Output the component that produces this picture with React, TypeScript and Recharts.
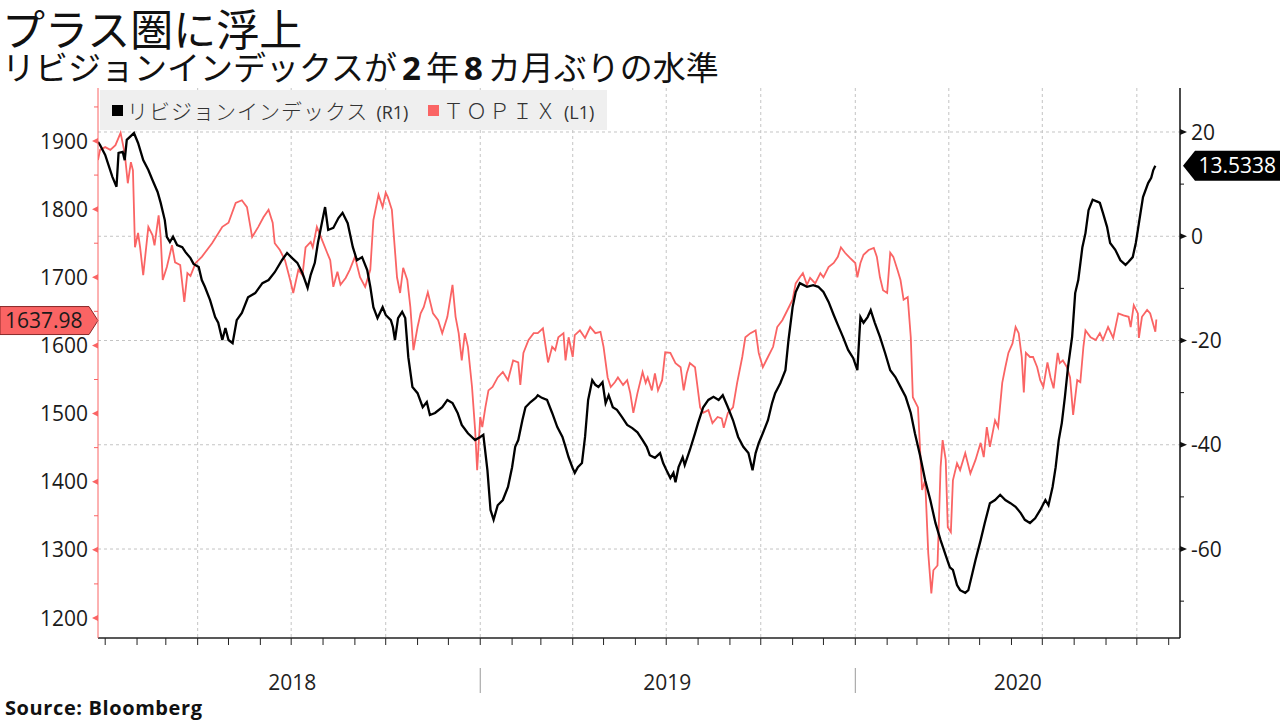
import { LineChart, Line, XAxis, YAxis, CartesianGrid, ReferenceLine, Legend } from 'recharts';

// days counted from 2018-01-01
const revDays = [
  -7, -5, 0, 7, 11, 13, 17, 19, 21, 28, 32, 37, 42, 46, 51, 54, 58, 60, 63, 66,
  70, 75, 78, 83, 86, 91, 94, 97, 102, 107, 110, 114, 117, 120, 124, 128, 133, 139, 146, 153,
  159, 165, 172, 177, 182, 187, 192, 197, 200, 204, 207, 211, 214, 217, 222, 227, 231, 236, 241, 245,
  250, 255, 258, 261, 265, 270, 273, 278, 280, 282, 285, 289, 292, 295, 299, 304, 309, 313, 316, 321,
  328, 333, 338, 343, 347, 353, 360, 365, 368, 372, 375, 378, 382, 387, 392, 396, 399, 402, 406, 409,
  414, 419, 421, 425, 430, 435, 440, 445, 448, 451, 455, 457, 460, 464, 467, 470, 474, 477, 480, 484,
  487, 490, 494, 498, 503, 508, 513, 518, 523, 527, 530, 535, 540, 543, 547, 550, 553, 555, 558, 562,
  564, 569, 574, 577, 582, 587, 592, 597, 601, 606, 611, 616, 621, 626, 630, 633, 636, 640, 645, 649,
  652, 657, 662, 665, 669, 672, 676, 683, 689, 694, 699, 704, 709, 713, 718, 723, 728, 732, 735, 738,
  742, 745, 749, 754, 759, 764, 769, 774, 779, 784, 788, 793, 798, 803, 808, 813, 818, 822, 825, 829,
  832, 837, 840, 844, 847, 852, 856, 861, 866, 871, 876, 881, 886, 891, 895, 900, 905, 910, 915, 918,
  922, 925, 928, 931, 934, 937, 941, 944, 947, 951, 954, 957, 961, 966, 968, 971, 975, 978, 983, 988,
  993, 996, 1000, 1003, 1006, 1010, 1015, 1018, 1020, 1022,
];
const revIndex = [
  18.1, 17.5, 15.6, 11.4, 9.5, 16.0, 16.2, 14.6, 18.5, 19.8, 17.9, 14.6, 12.7, 10.8, 8.5, 6.4, 3.1, -0.1, -1.1, -0.1,
  -1.7, -2.1, -3.0, -4.2, -5.3, -5.9, -8.4, -9.7, -12.2, -15.5, -16.6, -19.9, -17.6, -19.9, -20.5, -16.1, -14.7, -11.7, -10.9, -9.0,
  -8.4, -6.9, -4.6, -3.2, -4.2, -5.1, -7.1, -9.9, -7.4, -5.1, -1.3, 2.7, 5.6, 1.2, 1.6, 3.5, 4.5, 2.5, -2.1, -4.6,
  -4.0, -6.5, -9.7, -13.6, -15.7, -13.6, -15.1, -16.1, -17.4, -19.9, -15.7, -14.5, -15.7, -23.2, -28.9, -30.1, -32.8, -31.8, -34.3, -33.9,
  -32.8, -31.4, -32.0, -33.9, -36.2, -37.8, -39.1, -38.5, -38.1, -44.9, -52.5, -54.4, -51.6, -50.6, -48.1, -44.3, -40.4, -39.1, -35.3, -32.8,
  -31.8, -31.0, -30.5, -31.0, -31.4, -33.9, -36.6, -38.5, -40.4, -42.4, -44.5, -45.4, -44.3, -43.5, -38.5, -31.4, -27.6, -28.5, -28.9, -28.0,
  -32.0, -30.5, -32.8, -33.3, -34.7, -36.2, -36.8, -37.6, -39.1, -40.4, -42.0, -42.5, -41.6, -43.5, -45.2, -46.4, -45.4, -47.2, -44.3, -42.4,
  -43.9, -41.0, -37.8, -35.8, -32.8, -31.4, -30.8, -31.4, -30.5, -32.8, -35.3, -38.5, -40.4, -41.6, -44.9, -41.6, -39.7, -37.8, -35.3, -32.0,
  -30.1, -28.2, -25.7, -19.9, -13.6, -10.7, -9.0, -9.7, -9.4, -9.7, -10.7, -12.6, -15.1, -17.0, -19.3, -21.8, -23.4, -25.7, -15.5, -16.6,
  -15.5, -14.2, -16.6, -19.3, -22.4, -25.7, -27.0, -28.9, -30.8, -33.9, -37.8, -42.0, -46.8, -50.6, -55.0, -58.3, -61.2, -63.5, -64.0, -66.9,
  -67.9, -68.4, -67.9, -64.6, -62.1, -58.3, -55.0, -51.2, -50.6, -49.6, -50.6, -51.2, -51.9, -53.1, -54.4, -55.0, -54.1, -52.5, -50.6, -51.6,
  -48.1, -44.3, -39.1, -35.8, -30.8, -25.1, -19.3, -10.9, -8.4, -2.1, 0.6, 5.0, 7.0, 6.6, 6.4, 4.5, 1.8, -1.3, -2.6, -4.6,
  -5.5, -4.9, -4.0, -1.3, 2.5, 7.5, 10.2, 11.2, 12.7, 13.5338,
];

const topixDays = [
  -7, -5, 0, 5, 10, 15, 19, 22, 25, 27, 29, 32, 34, 37, 42, 46, 48, 52, 54, 56,
  60, 65, 68, 73, 77, 80, 83, 88, 94, 104, 114, 120, 127, 133, 138, 143, 149, 154, 159, 163,
  165, 170, 175, 180, 183, 188, 192, 195, 200, 202, 206, 211, 216, 219, 222, 226, 229, 234, 238, 243,
  248, 253, 258, 261, 266, 270, 273, 275, 279, 284, 287, 290, 294, 297, 300, 304, 307, 310, 314, 319,
  324, 328, 333, 338, 341, 344, 347, 350, 353, 357, 360, 362, 365, 367, 370, 373, 377, 382, 387, 392,
  397, 402, 404, 407, 412, 417, 421, 426, 431, 435, 438, 441, 446, 448, 451, 455, 457, 462, 467, 472,
  477, 482, 485, 489, 492, 496, 499, 504, 508, 511, 514, 518, 523, 526, 528, 532, 535, 538, 542, 545,
  550, 555, 560, 563, 566, 569, 574, 579, 582, 587, 591, 596, 600, 602, 606, 611, 615, 620, 623, 628,
  633, 636, 640, 645, 650, 654, 659, 664, 669, 672, 676, 679, 683, 686, 691, 696, 699, 704, 709, 713,
  716, 720, 725, 730, 732, 735, 738, 743, 748, 751, 754, 757, 761, 764, 767, 771, 774, 777, 781, 784,
  786, 791, 795, 798, 801, 804, 806, 810, 813, 815, 818, 820, 823, 825, 829, 832, 837, 842, 847, 852,
  855, 858, 861, 866, 869, 873, 876, 879, 883, 886, 889, 892, 894, 896, 900, 903, 907, 910, 913, 917,
  920, 923, 927, 929, 932, 936, 939, 942, 946, 949, 952, 954, 959, 964, 968, 971, 976, 981, 986, 991,
  996, 998, 1001, 1005, 1006, 1009, 1014, 1017, 1022, 1023,
];
const topix = [
  1872, 1887, 1891, 1887, 1894, 1912, 1882, 1838, 1869, 1857, 1744, 1765, 1744, 1703, 1774, 1762, 1747, 1791, 1759, 1696,
  1715, 1747, 1722, 1718, 1664, 1706, 1702, 1721, 1730, 1750, 1774, 1780, 1809, 1813, 1803, 1759, 1774, 1788, 1799, 1780,
  1750, 1740, 1725, 1696, 1677, 1711, 1703, 1744, 1752, 1744, 1774, 1755, 1736, 1725, 1686, 1708, 1689, 1699, 1711, 1730,
  1700, 1686, 1711, 1784, 1821, 1803, 1824, 1818, 1799, 1700, 1677, 1714, 1696, 1656, 1593, 1627, 1647, 1656, 1678, 1647,
  1637, 1618, 1642, 1689, 1642, 1618, 1578, 1618, 1598, 1539, 1476, 1417, 1495, 1480, 1509, 1534, 1539, 1553, 1561, 1549,
  1578, 1575, 1542, 1589, 1608, 1618, 1618, 1625, 1575, 1598, 1593, 1612, 1618, 1578, 1612, 1583, 1615, 1622, 1611, 1627,
  1618, 1620, 1598, 1553, 1539, 1546, 1553, 1542, 1549, 1530, 1501, 1530, 1561, 1545, 1553, 1534, 1559, 1534, 1549, 1590,
  1589, 1574, 1568, 1534, 1559, 1574, 1568, 1509, 1501, 1505, 1486, 1495, 1493, 1479, 1501, 1509, 1545, 1583, 1612, 1618,
  1622, 1589, 1568, 1583, 1598, 1627, 1637, 1652, 1667, 1691, 1700, 1706, 1689, 1699, 1691, 1706, 1700, 1715, 1721, 1730,
  1744, 1736, 1728, 1721, 1700, 1721, 1733, 1740, 1743, 1730, 1700, 1681, 1677, 1736, 1730, 1711, 1696, 1667, 1671, 1612,
  1524, 1509, 1388, 1402, 1295, 1236, 1270, 1277, 1421, 1461, 1432, 1333, 1326, 1402, 1427, 1417, 1442, 1412, 1432, 1457,
  1436, 1480, 1451, 1490, 1480, 1545, 1568, 1589, 1603, 1627, 1618, 1583, 1531, 1589, 1583, 1583, 1568, 1549, 1539, 1575,
  1553, 1537, 1589, 1574, 1578, 1568, 1553, 1498, 1549, 1546, 1598, 1622, 1612, 1608, 1618, 1608, 1627, 1611, 1647, 1644,
  1642, 1627, 1659, 1647, 1611, 1642, 1652, 1647, 1620, 1637.98,
];

const monthStarts = [
  0, 31, 59, 90, 120, 151, 181, 212, 243, 273, 304, 334,
  365, 396, 424, 455, 485, 516, 546, 577, 608, 638, 669, 699,
  730, 761, 790, 821, 851, 882, 912, 943, 974, 1004, 1035,
];
const quarterStarts = [90, 181, 273, 365, 455, 546, 638, 730, 821, 912, 1004];
const yearLabels = ['2018', '2019', '2020'];
const yearCenters = [182, 547, 888];
const yearBreaks = [365, 730];
const leftTicks = [1200, 1250, 1300, 1350, 1400, 1450, 1500, 1550, 1600, 1650, 1700, 1750, 1800, 1850, 1900, 1950];
const rightTicks = [-70, -60, -50, -40, -30, -20, -10, 0, 10, 20];
const rightGrid = [-60, -40, -20, 0, 20];

const RED = '#fa6464';
const NUM_FONT = "'Open Sans', sans-serif";
const JP_FONT = "'Noto Sans CJK JP', sans-serif";

const revData = revDays.map((d, i) => ({ d, v: revIndex[i] }));
const topixData = topixDays.map((d, i) => ({ d, v: topix[i] }));

const NoTick = () => <g />;

const LeftTick = ({ x, y, payload }: any) => {
  const major = payload.value % 100 === 0;
  return (
    <g>
      {major ? (
        <polygon points={`${x},${y - 3} ${x},${y + 3} ${x - 6},${y}`} fill={RED} />
      ) : (
        <line x1={x} x2={x - 4} y1={y} y2={y} stroke={RED} />
      )}
      {major && (
        <text x={x - 10} y={y} dy="0.36em" textAnchor="end" fontSize={21} fill="#1a1a1a" fontFamily={NUM_FONT}>
          {payload.value}
        </text>
      )}
    </g>
  );
};

const RightTick = ({ x, y, payload }: any) => {
  const major = payload.value % 20 === 0;
  return (
    <g>
      {major ? (
        <polygon points={`${x},${y - 3} ${x},${y + 3} ${x + 7},${y}`} fill="#111" />
      ) : (
        <line x1={x} x2={x + 4} y1={y} y2={y} stroke="#111" />
      )}
      {major && (
        <text x={x + 11} y={y} dy="0.36em" textAnchor="start" fontSize={21} fill="#1a1a1a" fontFamily={NUM_FONT}>
          {payload.value < 0 ? `-${Math.abs(payload.value)}` : payload.value}
        </text>
      )}
    </g>
  );
};

const YearTick = ({ x, y, payload }: any) => {
  if (yearBreaks.includes(payload.value)) {
    return <line x1={x} x2={x} y1={y + 10} y2={y + 35} stroke="#9a9a9a" />;
  }
  const i = yearCenters.indexOf(payload.value);
  return (
    <text x={x} y={y + 24} dy="0.36em" textAnchor="middle" fontSize={21} fill="#222" fontFamily={NUM_FONT}>
      {yearLabels[i]}
    </text>
  );
};

const LeftTag = ({ viewBox, text }: any) => {
  if (!viewBox) return null;
  const x = viewBox.x;
  const y = viewBox.y + (viewBox.height || 0) / 2 + 1;
  const pts = `${x - 98},${y - 14} ${x - 9},${y - 14} ${x},${y} ${x - 9},${y + 14} ${x - 98},${y + 14}`;
  return (
    <g>
      <polygon points={pts} fill={RED} stroke="#8a2a2a" strokeWidth={1} />
      <text x={x - 93} y={y} dy="0.36em" fontSize={21} fill="#1a1a1a" fontFamily={NUM_FONT}>
        {text}
      </text>
    </g>
  );
};

const RightTag = ({ viewBox, text }: any) => {
  if (!viewBox) return null;
  const x = viewBox.x + viewBox.width;
  const y = viewBox.y + (viewBox.height || 0) / 2;
  const pts = `${x + 3},${y} ${x + 15},${y - 15} ${x + 100},${y - 15} ${x + 100},${y + 15} ${x + 15},${y + 15}`;
  return (
    <g>
      <polygon points={pts} fill="#000" />
      <text x={x + 96} y={y} dy="0.36em" textAnchor="end" fontSize={21} fill="#fff" fontFamily={NUM_FONT}>
        {text}
      </text>
    </g>
  );
};

const LegendBox = () => (
  <div
    style={{
      position: 'relative',
      width: 507,
      height: 40,
      background: '#efefef',
      color: '#333',
      fontSize: 21,
    }}
  >
    <span style={{ position: 'absolute', left: 12, top: 15, width: 11, height: 11, background: '#000' }} />
    <span style={{ position: 'absolute', left: 27, top: 6, lineHeight: '28px', whiteSpace: 'nowrap' }}>
      <span style={{ fontFamily: JP_FONT, fontWeight: 300, letterSpacing: 1 }}>リビジョンインデックス</span>
      <span style={{ fontFamily: NUM_FONT, fontSize: 18, marginLeft: 8 }}>(R1)</span>
    </span>
    <span style={{ position: 'absolute', left: 328, top: 15, width: 11, height: 11, background: RED }} />
    <span style={{ position: 'absolute', left: 343, top: 6, lineHeight: '28px', whiteSpace: 'nowrap' }}>
      <span style={{ fontFamily: JP_FONT, fontWeight: 300, letterSpacing: 2 }}>ＴＯＰＩＸ</span>
      <span style={{ fontFamily: NUM_FONT, fontSize: 18, marginLeft: 6 }}>(L1)</span>
    </span>
  </div>
);

export default function App() {
  const lastTopix = topix[topix.length - 1];
  const lastRev = revIndex[revIndex.length - 1];
  return (
    <div
      style={{
        position: 'absolute',
        left: 0,
        top: 0,
        width: 1280,
        height: 720,
        background: '#fff',
        overflow: 'hidden',
      }}
    >
      <div
        style={{
          position: 'absolute',
          left: 2,
          top: 5,
          fontFamily: JP_FONT,
          fontSize: 43,
          lineHeight: '44px',
          color: '#111',
          whiteSpace: 'nowrap',
        }}
      >
        プラス圏に浮上
      </div>
      <div
        style={{
          position: 'absolute',
          left: 2,
          top: 49,
          fontFamily: JP_FONT,
          fontSize: 33,
          lineHeight: '34px',
          color: '#111',
          whiteSpace: 'nowrap',
        }}
      >
        リビジョンインデックスが
        <b style={{ fontFamily: NUM_FONT, margin: '0 5px' }}>2</b>年
        <b style={{ fontFamily: NUM_FONT, margin: '0 5px' }}>8</b>カ月ぶりの水準
      </div>

      <div style={{ position: 'absolute', left: 0, top: 0 }}>
        <LineChart width={1280} height={720} margin={{ top: 88, right: 0, bottom: 0, left: 0 }}>
          <CartesianGrid
            yAxisId="right"
            horizontalValues={rightGrid}
            verticalValues={quarterStarts}
            stroke="#c4c4c4"
            strokeDasharray="3 3"
          />
          <XAxis
            dataKey="d"
            type="number"
            domain={[-7, 1046]}
            allowDataOverflow
            ticks={monthStarts}
            interval={0}
            tickSize={7}
            tickLine={{ stroke: '#222' }}
            axisLine={{ stroke: '#222', strokeWidth: 1.5 }}
            tick={NoTick}
            height={20}
          />
          <XAxis
            xAxisId="year"
            dataKey="d"
            type="number"
            domain={[-7, 1046]}
            allowDataOverflow
            ticks={[yearCenters[0], yearBreaks[0], yearCenters[1], yearBreaks[1], yearCenters[2]]}
            interval={0}
            axisLine={false}
            tickLine={false}
            tickSize={0}
            tickMargin={0}
            tick={YearTick}
            height={62}
          />
          <YAxis
            yAxisId="left"
            orientation="left"
            domain={[1170.6, 1977.8]}
            allowDataOverflow
            ticks={leftTicks}
            interval={0}
            width={98}
            tickSize={0}
            tickMargin={0}
            tickLine={false}
            axisLine={{ stroke: RED }}
            tick={LeftTick}
          />
          <YAxis
            yAxisId="right"
            orientation="right"
            domain={[-77.07, 28.44]}
            allowDataOverflow
            ticks={rightTicks}
            interval={0}
            width={100}
            tickSize={0}
            tickMargin={0}
            tickLine={false}
            axisLine={{ stroke: '#111', strokeWidth: 1.5 }}
            tick={RightTick}
          />
          <Legend
            layout="horizontal"
            verticalAlign="middle"
            align="center"
            wrapperStyle={{ top: 90, left: 100, width: 507, height: 40 }}
            content={LegendBox}
          />
          <Line
            yAxisId="left"
            data={topixData}
            dataKey="v"
            type="linear"
            stroke={RED}
            strokeWidth={1.8}
            dot={false}
            activeDot={false}
            isAnimationActive={false}
          />
          <Line
            yAxisId="right"
            data={revData}
            dataKey="v"
            type="linear"
            stroke="#000"
            strokeWidth={2.3}
            dot={false}
            activeDot={false}
            isAnimationActive={false}
          />
          <ReferenceLine
            yAxisId="left"
            y={lastTopix}
            stroke="none"
            ifOverflow="visible"
            label={<LeftTag text={lastTopix.toFixed(2)} />}
          />
          <ReferenceLine
            yAxisId="right"
            y={lastRev}
            stroke="none"
            ifOverflow="visible"
            label={<RightTag text={lastRev.toFixed(4)} />}
          />
        </LineChart>
      </div>

      <div
        style={{
          position: 'absolute',
          left: 5,
          top: 694,
          fontFamily: NUM_FONT,
          fontWeight: 700,
          fontSize: 20,
          letterSpacing: 0.6,
          color: '#111',
          whiteSpace: 'nowrap',
        }}
      >
        Source: Bloomberg
      </div>
    </div>
  );
}
